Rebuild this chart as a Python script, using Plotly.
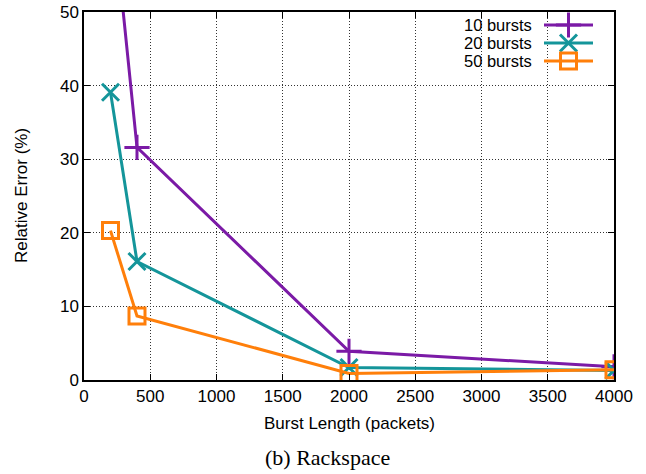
import plotly.graph_objects as go

burst_length = [200, 400, 2000, 4000]
series_names = ["10 bursts", "20 bursts", "50 bursts"]
err_10 = [67.0, 31.6, 3.9, 1.8]
err_20 = [39.1, 16.1, 1.7, 1.3]
err_50 = [20.3, 8.7, 0.9, 1.4]
x_ticks = [0, 500, 1000, 1500, 2000, 2500, 3000, 3500, 4000]
y_ticks = [0, 10, 20, 30, 40, 50]

colors = ["#7b1aa6", "#14959a", "#ff7f0a"]
symbols = ["cross-thin", "x-thin", "square-open"]
sizes = [18, 17, 16]
values = [err_10, err_20, err_50]

fig = go.Figure()
for name, ys, c, s, sz in zip(series_names, values, colors, symbols, sizes):
    fig.add_trace(go.Scatter(
        x=burst_length, y=ys, name=name, mode="lines+markers",
        line=dict(color=c, width=3),
        marker=dict(symbol=s, size=sz, color=c, line=dict(color=c, width=3)),
        cliponaxis=True, showlegend=False))

# custom gnuplot-like legend (text right, sample on right) on an overlay axis in pixel units
L, R, T, B = 84, 614, 12, 380
rows = [25, 43, 61]
for name, c, s, sz, yy in zip(series_names, colors, symbols, sizes, rows):
    fig.add_trace(go.Scatter(
        x=[544, 593], y=[yy, yy], xaxis="x2", yaxis="y2", mode="lines",
        line=dict(color=c, width=3), showlegend=False, hoverinfo="skip"))
    fig.add_trace(go.Scatter(
        x=[568.5], y=[yy], xaxis="x2", yaxis="y2", mode="markers",
        marker=dict(symbol=s, size=sz, color=c, line=dict(color=c, width=3)),
        showlegend=False, hoverinfo="skip", cliponaxis=False))
    fig.add_annotation(x=533, y=yy, xref="x2", yref="y2", text=name,
                       showarrow=False, xanchor="right", yanchor="middle",
                       height=16, borderpad=0,
                       font=dict(family="Liberation Sans, Arial", size=16.5, color="black"))

axis_font = dict(family="Liberation Sans, Arial", size=17, color="black")
grid_common = dict(ticks="inside", ticklen=6, tickcolor="black", showline=True,
                   linecolor="black", linewidth=1.5, mirror="allticks", showgrid=True,
                   gridcolor="#333", griddash="1px,2px", gridwidth=1, zeroline=False,
                   tickfont=axis_font, automargin=False)
fig.update_layout(
    width=646, height=474,
    margin=dict(l=L, r=646 - R, t=T, b=474 - B),
    paper_bgcolor="white", plot_bgcolor="white",
    font=axis_font,
    xaxis=dict(range=[0, 4000], tickvals=x_ticks, **grid_common),
    yaxis=dict(range=[0, 50], tickvals=y_ticks, **grid_common),
    xaxis2=dict(range=[L, R], overlaying="x", visible=False, fixedrange=True),
    yaxis2=dict(range=[B, T], overlaying="y", visible=False, fixedrange=True),
)
H = B - T
fig.add_annotation(x=0.5, xref="paper", y=(B - 423) / H, yref="paper", yanchor="middle",
                   text="Burst Length (packets)", showarrow=False, font=axis_font)
fig.add_annotation(x=(21 - L) / (R - L), xref="paper", y=0.5, yref="paper",
                   xanchor="center", yanchor="middle", textangle=-90,
                   text="Relative Error (%)", showarrow=False, font=axis_font)
fig.add_annotation(x=(327 - L) / (R - L), xref="paper", y=(B - 457) / H, yref="paper",
                   yanchor="middle", xanchor="center",
                   text="(b) Rackspace", showarrow=False,
                   font=dict(family="Liberation Serif, Times New Roman", size=22, color="black"))
fig.write_html("out.html", config={"displayModeBar": False},
               post_script="document.body.style.margin='0px';")
